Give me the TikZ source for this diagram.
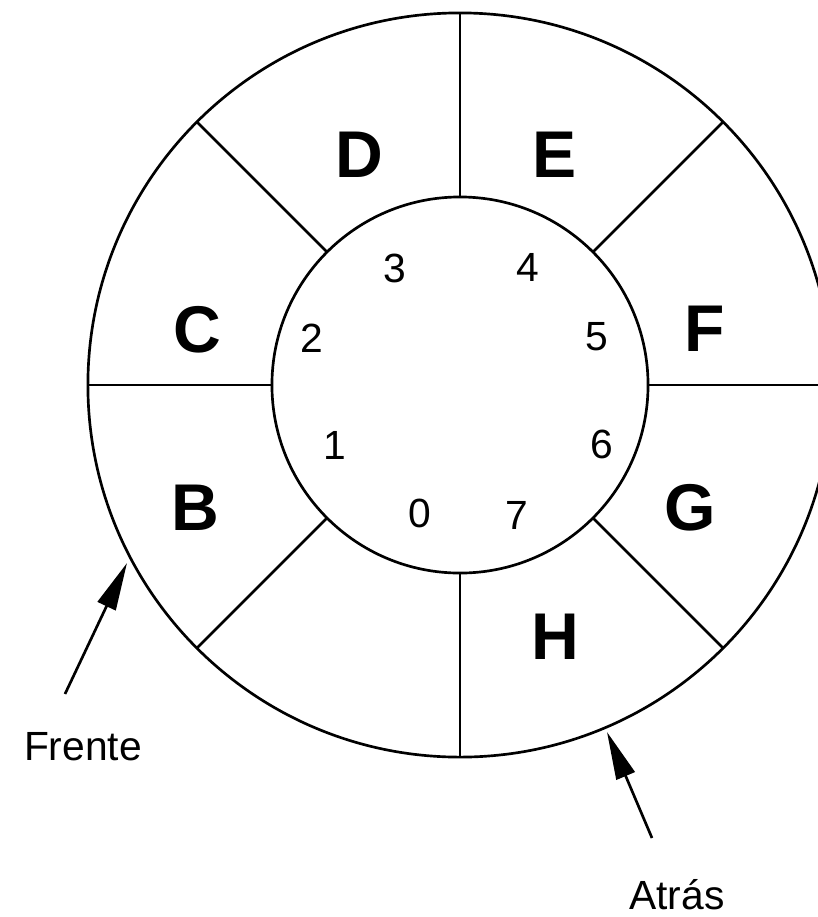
\documentclass[tikz,border=0pt]{standalone}
\usepackage{fontspec}
\setmainfont{Liberation Sans}
\setsansfont{Liberation Sans}
\usetikzlibrary{arrows.meta}

\begin{document}
\begin{tikzpicture}[
  x=0.025cm,y=-0.025cm,
  font=\sffamily,
  ring/.style={circle,draw,line width=1.9pt,inner sep=0pt,outer sep=0pt},
  slot/.style={font=\sffamily\bfseries\fontsize{47}{50}\selectfont},
  idx/.style={font=\sffamily\fontsize{29}{32}\selectfont},
  lbl/.style={font=\sffamily\fontsize{29}{32}\selectfont},
  ptr/.style={-{Triangle[length=34pt,width=14pt]},line width=1.9pt}]
\useasboundingbox (0,0) rectangle (818,917);
\clip (0,0) rectangle (818,917);
% the two rings and the eight dividers
\node[ring,minimum size=18.6cm] (outer) at (460,385) {};
\node[ring,minimum size=9.4cm] (inner) at (460,385) {};
\foreach \a in {0,45,...,315}
  \draw[line width=1.9pt] (inner.\a) -- (outer.\a);
% slot contents
\node[slot] (sD) at (359,155) {D};
\node[slot] (sE) at (555,155) {E};
\node[slot] (sC) at (197,330) {C};
\node[slot] (sF) at (705,329) {F};
\node[slot] (sB) at (195,508) {B};
\node[slot] (sG) at (690,508) {G};
\node[slot] (sH) at (555,637) {H};
% slot indices
\node[idx] (i0) at (420,513) {0};
\node[idx] (i1) at (335,445) {1};
\node[idx] (i2) at (312,338) {2};
\node[idx] (i3) at (395,268) {3};
\node[idx] (i4) at (528,267) {4};
\node[idx] (i5) at (597,337) {5};
\node[idx] (i6) at (602,444) {6};
\node[idx] (i7) at (517,515) {7};
% front and rear pointers
\node[lbl] (frente) at (83,747) {Frente};
\node[lbl] (atras) at (677,895) {Atrás};
\coordinate (ftail) at (65,694);
\coordinate (fhead) at (127,563);
\coordinate (atail) at (652,838);
\coordinate (ahead) at (607,732);
\draw[ptr] (ftail) -- (fhead);
\draw[ptr] (atail) -- (ahead);
\end{tikzpicture}
\end{document}
